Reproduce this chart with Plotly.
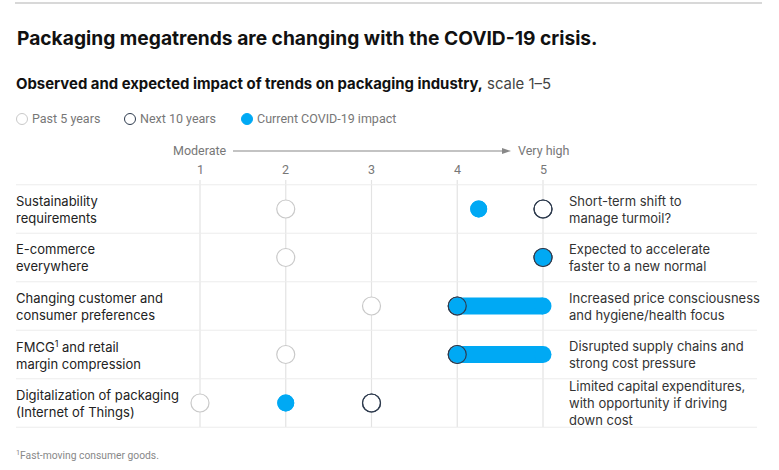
import plotly.graph_objects as go

W, H = 779, 470

# ---------------- data ----------------
trends = [
    "Sustainability<br>requirements",
    "E-commerce<br>everywhere",
    "Changing customer and<br>consumer preferences",
    "FMCG<sup>1</sup> and retail<br>margin compression",
    "Digitalization of packaging<br>(Internet of Things)",
]
notes = [
    "Short-term shift to<br>manage turmoil?",
    "Expected to accelerate<br>faster to a new normal",
    "Increased price consciousness<br>and hygiene/health focus",
    "Disrupted supply chains and<br>strong cost pressure",
    "Limited capital expenditures,<br>with opportunity if driving<br>down cost",
]
past_5 = [2, 2, 3, 2, 1]
next_10 = [5, 5, 4, 4, 3]
covid_low = [4.25, 5, 4, 4, 2]
covid_high = [4.25, 5, 5, 5, 2]
scale_ticks = [1, 2, 3, 4, 5]
legend_names = ["Past 5 years", "Next 10 years", "Current COVID-19 impact"]

# ---------------- styles ----------------
BLUE = "#00a9f4"
DARK = "#2e3b4e"
LIGHT = "#c9c9c9"
FONT = "Inter, Roboto, Arial, sans-serif"
LFONT = "Roboto, Arial, sans-serif"

# pixel mapping helpers for axes
X1PX, XSTEP = 200.0, 85.75
Y0PX, YSTEP = 209.0, 48.5
x_range = [1 - X1PX / XSTEP, 1 + (W - X1PX) / XSTEP]
y_range = [(H - Y0PX) / YSTEP, -Y0PX / YSTEP]

def px(x):
    return x / W

def py(y):
    return 1 - y / H

rows = list(range(len(trends)))

fig = go.Figure()

# past 5 years
fig.add_trace(go.Scatter(
    x=past_5, y=rows, mode="markers",
    marker=dict(size=18, color="white", line=dict(color=LIGHT, width=1.2)),
    hoverinfo="skip"))
# next 10 years (white fill)
fig.add_trace(go.Scatter(
    x=next_10, y=rows, mode="markers",
    marker=dict(size=18, color="white", line=dict(color=DARK, width=1.2)),
    hoverinfo="skip"))
# covid impact (bars / dots)
for i in rows:
    fig.add_trace(go.Scatter(
        x=[covid_low[i], covid_high[i]], y=[i, i], mode="lines+markers",
        line=dict(color=BLUE, width=17),
        marker=dict(size=17, color=BLUE, line=dict(width=0)),
        hoverinfo="skip"))
# next 10 years outlines on top
fig.add_trace(go.Scatter(
    x=next_10, y=rows, mode="markers",
    marker=dict(size=18, color="rgba(0,0,0,0)", line=dict(color=DARK, width=1.2)),
    hoverinfo="skip"))

shapes = []
# vertical gridlines
for t in scale_ticks:
    shapes.append(dict(type="line", xref="x", yref="paper", x0=t, x1=t,
                       y0=py(180), y1=py(427), line=dict(color="#e3e3e3", width=1.2),
                       layer="below"))
# row separators
for b in [r - 0.5 for r in rows] + [rows[-1] + 0.5]:
    shapes.append(dict(type="line", xref="paper", yref="y", x0=px(16), x1=px(757),
                       y0=b, y1=b, line=dict(color="#ececec", width=1.2), layer="below"))
# top rule
shapes.append(dict(type="line", xref="paper", yref="paper", x0=px(15), x1=px(762),
                   y0=py(3), y1=py(3), line=dict(color="#d8d8d8", width=2)))
# scale arrow line
shapes.append(dict(type="line", xref="paper", yref="paper", x0=px(233), x1=px(504),
                   y0=py(151), y1=py(151), line=dict(color="#888", width=1.2)))
shapes.append(dict(type="path", xref="paper", yref="paper",
                   path=f"M {px(502)},{py(148)} L {px(511)},{py(151)} L {px(502)},{py(154)} Z",
                   fillcolor="#888", line=dict(width=0)))

# legend symbols
leg_x = [22, 130, 247]
leg_styles = [("white", LIGHT), ("white", DARK), (BLUE, BLUE)]
for lx, (fc, lc) in zip(leg_x, leg_styles):
    shapes.append(dict(type="circle", xref="paper", yref="paper",
                       xsizemode="pixel", ysizemode="pixel",
                       xanchor=px(lx), yanchor=py(119),
                       x0=-5.5, x1=5.5, y0=-5.5, y1=5.5,
                       fillcolor=fc, line=dict(color=lc, width=1)))

ann = []
ann.append(dict(text="<b>Packaging megatrends are changing with the COVID-19 crisis.</b>",
                x=px(15), y=py(38), xref="paper", yref="paper", xanchor="left", yanchor="middle",
                showarrow=False, font=dict(size=19.2, color="#111", family=FONT)))
ann.append(dict(text="<b>Observed and expected impact of trends on packaging industry,</b>"
                     "<span style='color:#444'> scale 1–5</span>",
                x=px(14), y=py(84), xref="paper", yref="paper", xanchor="left", yanchor="middle",
                showarrow=False, font=dict(size=14.9, color="#111", family=FONT)))
for lx, name in zip(leg_x, legend_names):
    ann.append(dict(text=name, x=px(lx + 8), y=py(119), xref="paper", yref="paper",
                    xanchor="left", yanchor="middle", showarrow=False,
                    font=dict(size=12.5, color="#777", family=LFONT)))
# scale header
ann.append(dict(text="Moderate", x=px(229), y=py(151), xref="paper", yref="paper",
                xanchor="right", yanchor="middle", showarrow=False,
                font=dict(size=12.5, color="#777", family=LFONT)))
ann.append(dict(text="Very high", x=px(516), y=py(151), xref="paper", yref="paper",
                xanchor="left", yanchor="middle", showarrow=False,
                font=dict(size=12.5, color="#777", family=LFONT)))
for t in scale_ticks:
    ann.append(dict(text=str(t), x=t, y=py(169), xref="x", yref="paper",
                    xanchor="center", yanchor="middle", showarrow=False,
                    font=dict(size=12.5, color="#777", family=LFONT)))
# row labels and notes
for i in rows:
    ann.append(dict(text=trends[i], x=px(14), y=i, xref="paper", yref="y",
                    xanchor="left", yanchor="middle", align="left", showarrow=False,
                    font=dict(size=13, color="#222", family=FONT)))
    ann.append(dict(text=notes[i], x=px(567), y=i, xref="paper", yref="y",
                    xanchor="left", yanchor="middle", align="left", showarrow=False,
                    font=dict(size=13, color="#333", family=FONT)))
ann.append(dict(text="<sup>1</sup>Fast-moving consumer goods.", x=px(14), y=py(455),
                xref="paper", yref="paper", xanchor="left", yanchor="middle",
                showarrow=False, font=dict(size=10.3, color="#888", family=LFONT)))

fig.update_layout(
    width=W, height=H, margin=dict(l=0, r=0, t=0, b=0),
    paper_bgcolor="white", plot_bgcolor="white", showlegend=False,
    xaxis=dict(range=x_range, visible=False, fixedrange=True),
    yaxis=dict(range=y_range, visible=False, fixedrange=True),
    shapes=shapes, annotations=ann, font=dict(family=FONT),
)

fig.write_html("out.html")
